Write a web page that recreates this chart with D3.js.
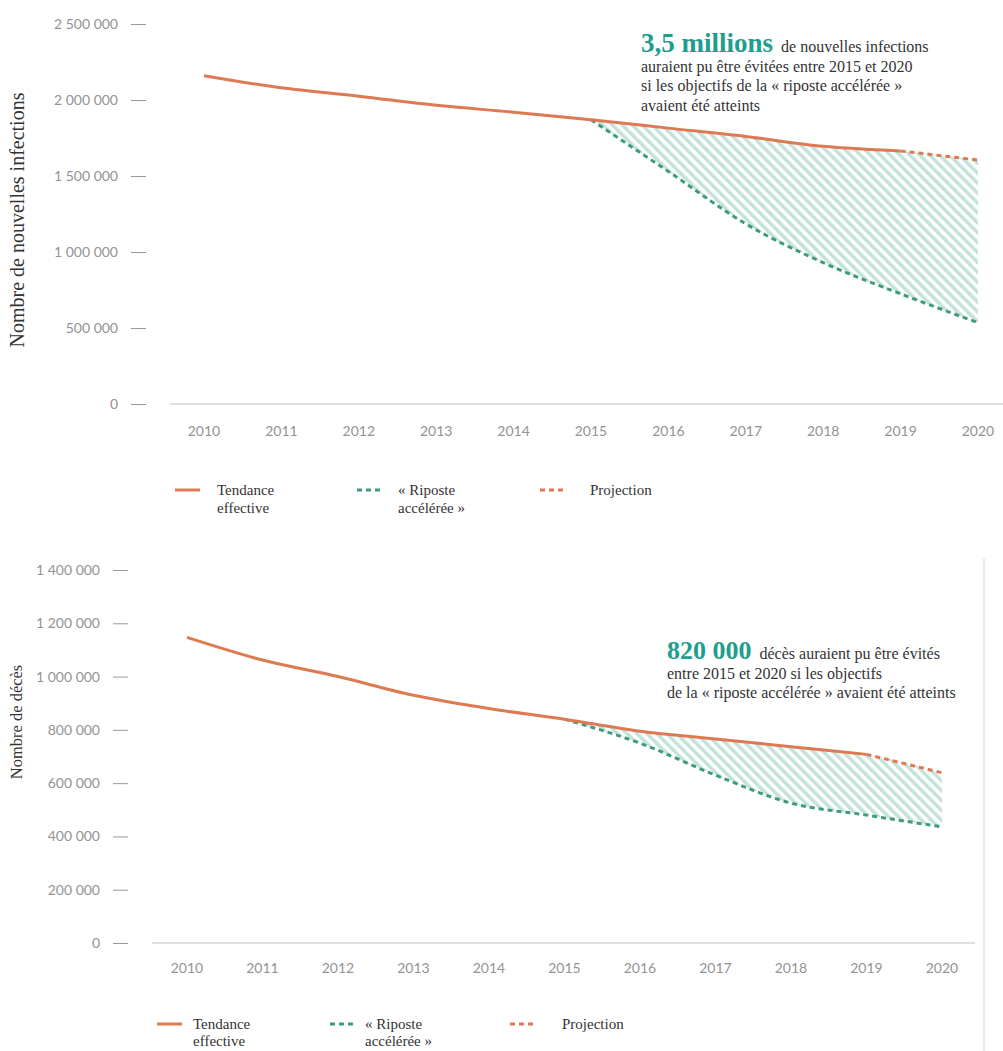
<!DOCTYPE html>
<html>
<head>
<meta charset="utf-8">
<style>
body{margin:0;background:#fff;}
.axis text{font-family:Lato, "Open Sans", sans-serif;font-size:14px;fill:#939393;}
.axis line{stroke:#9a9a9a;stroke-width:1;}
.axis path{display:none;}
.base{stroke:#d4d4d4;stroke-width:1.5;}
.serif{font-family:"Liberation Serif","Times New Roman",serif;fill:#333;}
.actual{fill:none;stroke:#dd7a52;stroke-width:3;}
.proj{fill:none;stroke:#dd7a52;stroke-width:3;stroke-dasharray:5,4;}
.fast{fill:none;stroke:#3f9a80;stroke-width:3;stroke-dasharray:5,4;}
.big{font-weight:bold;fill:#1e9e8c;}
</style>
</head>
<body>
<svg id="chart" width="1003" height="1051"></svg>
<script src="https://cdn.jsdelivr.net/npm/d3@7/dist/d3.min.js"></script>
<script>

// ---- data ----
var years = [2010, 2011, 2012, 2013, 2014, 2015, 2016, 2017, 2018, 2019, 2020];

// nouvelles infections
var infActual     = [2160000, 2080000, 2025000, 1965000, 1920000, 1870000, 1815000, 1760000, 1695000, 1665000]; // 2010-2019
var infProjection = [1665000, 1605000];                                        // 2019-2020
var infFastTrack  = [1870000, 1530000, 1185000, 930000, 725000, 535000];       // 2015-2020
var infTicks      = [0, 500000, 1000000, 1500000, 2000000, 2500000];

// décès
var decActual     = [1147000, 1062000, 1000000, 930000, 880000, 840000, 795000, 766000, 737000, 708000];
var decProjection = [708000, 639000];
var decFastTrack  = [840000, 750000, 630000, 525000, 480000, 436000];
var decTicks      = [0, 200000, 400000, 600000, 800000, 1000000, 1200000, 1400000];

var legendLabels = [["Tendance", "effective"], ["« Riposte", "accélérée »"], ["Projection"]];

var fr = d3.formatLocale({decimal: ",", thousands: " ", grouping: [3], currency: ["", " €"]});
var fmt = fr.format(",d");

var svg = d3.select("#chart");

// hatch pattern for the gap between the two curves
svg.append("defs").append("pattern")
    .attr("id", "hatch")
    .attr("patternUnits", "userSpaceOnUse")
    .attr("width", 7).attr("height", 10)
    .attr("patternTransform", "rotate(-45)")
  .append("rect")
    .attr("width", 3.5).attr("height", 10)
    .attr("fill", "#c2e2da");

function buildChart(c){

    var g = svg.append("g");

    var x = d3.scaleLinear().domain([years[0], years[years.length-1]]).range([c.x0, c.x1]);
    var y = d3.scaleLinear().domain([0, c.yMax]).range([c.yBase, c.yTop]);

    var actual = c.actual.map(function(v, i){ return {yr: years[i], v: v}; });
    var proj   = c.proj.map(function(v, i){ return {yr: years[9 + i], v: v}; });
    var fast   = c.fast.map(function(v, i){ return {yr: years[5 + i], v: v}; });

    // upper bound of the gap = actual (2015-2019) + projection 2020
    var upper = c.actual.slice(5).concat([c.proj[1]]);
    var band = fast.map(function(d, i){ return {yr: d.yr, lo: d.v, hi: upper[i]}; });

    // baseline
    g.append("line").attr("class", "base")
        .attr("x1", c.axisX1).attr("x2", c.axisX2)
        .attr("y1", y(0)).attr("y2", y(0));

    // y axis
    g.append("g").attr("class", "axis")
        .attr("transform", "translate(" + c.tickX + ",0)")
        .call(d3.axisLeft(y).tickValues(c.ticks).tickSize(15).tickPadding(13).tickFormat(fmt));

    // x labels
    g.append("g").attr("class", "axis")
        .selectAll("text").data(years).enter().append("text")
        .attr("x", function(d){ return x(d); })
        .attr("y", c.yearY)
        .attr("text-anchor", "middle")
        .text(function(d){ return d; });

    // y title
    g.append("text").attr("class", "serif")
        .attr("transform", "translate(" + c.titleX + "," + c.titleY + ") rotate(-90)")
        .attr("text-anchor", "middle")
        .style("font-size", c.titleSize + "px")
        .text(c.title);

    var area = d3.area()
        .x(function(d){ return x(d.yr); })
        .y0(function(d){ return y(d.lo); })
        .y1(function(d){ return y(d.hi); })
        .curve(d3.curveMonotoneX);

    var line = d3.line()
        .x(function(d){ return x(d.yr); })
        .y(function(d){ return y(d.v); })
        .curve(d3.curveMonotoneX);

    g.append("path").datum(band).attr("d", area).attr("fill", "url(#hatch)");
    g.append("path").datum(fast).attr("class", "fast").attr("d", line);
    g.append("path").datum(proj).attr("class", "proj").attr("d", line);
    g.append("path").datum(actual).attr("class", "actual").attr("d", line);

    // legend
    var cls = ["actual", "fast", "proj"];
    legendLabels.forEach(function(lbl, i){
        g.append("line").attr("class", cls[i])
            .attr("x1", c.legLine[i]).attr("x2", c.legLine[i] + 25)
            .attr("y1", c.legY).attr("y2", c.legY);
        var t = g.append("text").attr("class", "serif")
            .attr("x", c.legText[i]).attr("y", c.legY + 5)
            .style("font-size", "15px");
        lbl.forEach(function(s, j){
            t.append("tspan").attr("x", c.legText[i]).attr("dy", j ? c.legGap : 0).text(s);
        });
    });

    // annotation
    var a = g.append("text").attr("class", "serif")
        .attr("x", c.noteX).attr("y", c.noteY)
        .style("font-size", "16px");
    a.append("tspan").attr("class", "big").style("font-size", c.bigSize + "px").text(c.big);
    a.append("tspan").attr("dx", 8).text(c.note[0]);
    c.note.slice(1).forEach(function(s){
        a.append("tspan").attr("x", c.noteX).attr("dy", 19.5).text(s);
    });
}

buildChart({
    actual: infActual, proj: infProjection, fast: infFastTrack, ticks: infTicks, yMax: 2500000,
    x0: 204, x1: 978, yBase: 404, yTop: 24,
    tickX: 146, axisX1: 170, axisX2: 1003, yearY: 436,
    title: "Nombre de nouvelles infections", titleX: 24, titleY: 220, titleSize: 20,
    legY: 490, legGap: 18, legLine: [175, 357, 540], legText: [217, 398, 590],
    noteX: 641, noteY: 52, bigSize: 27, big: "3,5 millions",
    note: ["de nouvelles infections", "auraient pu être évitées entre 2015 et 2020",
           "si les objectifs de la « riposte accélérée »", "avaient été atteints"]
});

buildChart({
    actual: decActual, proj: decProjection, fast: decFastTrack, ticks: decTicks, yMax: 1400000,
    x0: 187, x1: 942, yBase: 943, yTop: 570,
    tickX: 128, axisX1: 152, axisX2: 975, yearY: 973,
    title: "Nombre de décès", titleX: 22, titleY: 722, titleSize: 16.5,
    legY: 1024, legGap: 17, legLine: [157, 330, 510], legText: [193, 365, 562],
    noteX: 667, noteY: 659, bigSize: 26, big: "820 000",
    note: ["décès auraient pu être évités", "entre 2015 et 2020 si les objectifs",
           "de la « riposte accélérée » avaient été atteints"]
});

// thin frame edge at the right of the lower panel
svg.append("line").attr("class", "base")
    .attr("x1", 984).attr("x2", 984).attr("y1", 558).attr("y2", 1051)
    .style("stroke", "#e4e4e4");

</script>
</body>
</html>
